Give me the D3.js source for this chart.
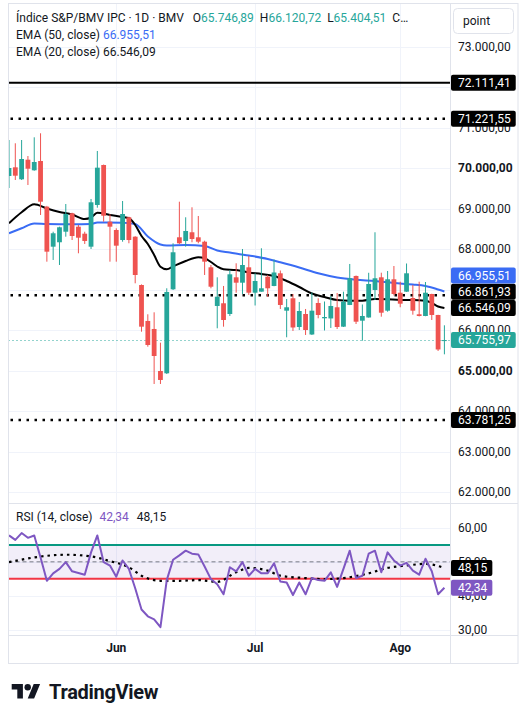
<!DOCTYPE html>
<html>
<head>
<meta charset="utf-8">
<script src="https://cdn.jsdelivr.net/npm/d3@7"></script>
<style>
body { margin: 0; background: #fff; }
svg { display: block; font-family: Roboto, "Noto Sans", sans-serif; }
</style>
</head>
<body>
<svg></svg>
<script>
/* daily candles, S&P/BMV IPC (index 0 = first visible bar) */
var openVals  = [69808,70022,69726,70210,69948,70178,69050,68062,68171,68432,68887,68556,68383,68062,69092,70079,68679,68474,68227,68788,
                 68309,67116,66228,66030,64993,64936,67010,68294,68203,68418,68294,68185,67553,66598,66665,66400,67306,67173,67553,66926,
                 66951,67321,67092,67405,66482,66788,66079,66400,65894,66672,66294,66290,66566,66087,66623,67339,66235,66314,66993,67306,
                 66482,67257,66926,66951,66795,66393,66351,66894,66376,65746.89];
var highVals  = [70696,70615,70696,70301,70763,70862,69070,68432,68556,69116,68900,68598,68432,69240,70425,70090,68862,68516,69190,68803,
                 68320,67130,66393,66442,65692,67035,68146,69173,68788,69035,68820,68210,67610,67306,67092,67487,67652,68005,67832,67405,
                 68023,67363,67746,67474,66771,66894,66697,66524,66931,66788,66709,66845,66919,66951,67635,67350,66635,67418,68418,67420,
                 67462,67585,67198,67647,67116,67198,67190,66900,66380,66120.72];
var lowVals   = [69511,69709,69709,69585,69938,68845,67692,67734,67610,68309,68227,67899,68129,68005,69025,68679,67692,67692,68185,68146,
                 67158,65963,65593,64672,64672,64919,66993,68129,68062,68171,68146,67363,67035,66047,66087,66351,66926,66894,66870,66610,
                 66951,66820,67085,66524,65825,65981,66005,65882,65882,66294,65993,66055,66030,66080,66620,66153,65741,66310,66746,66334,
                 66457,66857,66566,66945,66383,66340,66345,66252,65487,65404.51];
var closeVals = [70005,69815,70227,69988,70153,69173,67939,68393,68541,68869,68326,68284,68203,69158,70013,68827,68556,68087,68869,68227,
                 67363,66087,65635,65363,64771,66944,67924,68146,68450,68252,68185,67692,67074,66827,66252,67380,67173,67610,66926,67215,
                 67035,67035,67425,66623,66566,66067,66474,66005,66482,66376,66326,66598,66079,66704,67282,66210,66351,67141,67282,66432,
                 67257,66894,66655,67405,66482,66351,66926,66376,65524,65755.97];

/* moving averages at some bars */
var ema20Idx  = [0,2,4,6,8,10,12,13,14,16,18,19,20,21,22,23,24,25,26,28,30,31,32,33,34,36,38,40,42,44,46,48,50,52,54,56,58,60,62,64,66,67,68,69];
var ema20Vals = [68640,68911,69109,69005,68919,68857,68746,68783,68901,68845,68795,68763,68598,68326,68129,67857,67568,67504,67573,67709,
                 67800,67776,67684,67573,67504,67487,67425,67388,67339,67215,67067,66906,66820,66746,66729,66729,66771,66763,66746,66746,
                 66729,66672,66585,66546.09];
var ema50Idx  = [0,2,4,6,10,13,14,18,20,22,24,25,28,31,33,35,38,41,43,46,49,52,55,58,61,64,66,68,69];
var ema50Vals = [68393,68516,68635,68622,68615,68622,68659,68655,68622,68314,68116,68092,68104,68079,67968,67919,67845,67758,67677,67548,
                 67405,67302,67247,67215,67166,67129,67092,67005,66955.51];

/* horizontal levels */
var levelSolid  = [72111.41];
var levelDotted = [71221.55, 66861.93, 63781.25];

/* RSI (14) and its MA */
var rsiVals = [57.8,56.5,58.5,57.1,57.8,51.3,44.4,46.6,47.9,49.9,47.2,46.7,46.2,52.8,57.8,49.9,48.9,45.6,50.4,47.9,
               42.2,35.9,33.9,33.0,30.7,44.6,50.6,51.9,53.3,52.4,52.2,48.6,44.9,43.4,40.4,48.4,47.2,49.9,45.9,47.9,
               46.6,46.6,49.6,44.2,43.9,40.2,43.9,40.4,45.2,44.6,44.4,46.9,42.6,47.9,53.3,45.2,45.9,52.4,53.3,46.9,
               52.8,50.4,48.9,49.7,47.4,46.2,50.9,47.2,40.4,42.34];
var rsiMaIdx  = [0,4,9,13,16,19,21,24,27,30,33,36,38,41,43,47,50,53,57,60,63,66,69];
var rsiMaVals = [49.9,51.3,52.1,51.6,50.2,48.4,45.9,44.4,44.4,44.6,44.1,46.9,48.2,47.4,45.9,45.2,44.9,45.2,46.6,48.2,48.9,49.4,48.15];
var rsiBands  = [55, 45, 50];

/* axes */
var priceTicks = [62000,63000,64000,65000,66000,67000,68000,69000,70000,71000,72000,73000];
var boldTicks  = [70000, 65000];
var rsiTicks   = [30, 40, 50, 60];
var monthLabels = ['Jun', 'Jul', 'Ago'];
var monthIdx    = [17, 39, 62];

/* layout */
var svgWidth = 528, svgHeight = 709;
var plotL = 8.5, plotR = 450.5, axisR = 518;
var priceTop = 3.5, priceBot = 503.5, rsiBot = 635.5, frameBot = 663.5;
var teal = '#26a69a', red = '#ef5350', blue = '#3a6cf4', purple = '#7e57c2', ink = '#131722', grid = '#f0f3fa', border = '#e0e3eb';

var loc = d3.formatLocale({decimal: ',', thousands: '.', grouping: [3], currency: ['', '']});
var fmt = loc.format(',.2f');

var svg = d3.select('svg').attr('width', svgWidth).attr('height', svgHeight);
var n = closeVals.length;

var scale = {};
scale.x = d3.scaleLinear().domain([0, n - 1]).range([9, 444.4]);
scale.y = d3.scaleLinear().domain([62000, 73000]).range([492.2, 46.7]);
scale.r = d3.scaleLinear().domain([30, 60]).range([629.5, 528]);

var defs = svg.append('defs');
defs.append('clipPath').attr('id', 'clipP').append('rect')
    .attr('x', plotL).attr('y', priceTop).attr('width', plotR - plotL).attr('height', priceBot - priceTop);
defs.append('clipPath').attr('id', 'clipR').append('rect')
    .attr('x', plotL).attr('y', priceBot).attr('width', plotR - plotL).attr('height', rsiBot - priceBot);

/* grid */
var gridG = svg.append('g');
gridG.selectAll('.hg').data(priceTicks).enter().append('line')
    .attr('x1', plotL).attr('x2', plotR)
    .attr('y1', function(d){ return Math.round(scale.y(d)) + 0.5; })
    .attr('y2', function(d){ return Math.round(scale.y(d)) + 0.5; })
    .attr('stroke', grid);
gridG.selectAll('.rg').data(rsiTicks).enter().append('line')
    .attr('x1', plotL).attr('x2', plotR)
    .attr('y1', function(d){ return Math.round(scale.r(d)) + 0.5; })
    .attr('y2', function(d){ return Math.round(scale.r(d)) + 0.5; })
    .attr('stroke', grid);
gridG.selectAll('.vg').data(monthIdx).enter().append('line')
    .attr('x1', function(d){ return Math.round(scale.x(d)) + 0.5; })
    .attr('x2', function(d){ return Math.round(scale.x(d)) + 0.5; })
    .attr('y1', priceTop).attr('y2', rsiBot)
    .attr('stroke', grid);

/* price pane */
var priceG = svg.append('g').attr('clip-path', 'url(#clipP)');

var lineEma = d3.line()
    .x(function(d){ return scale.x(d[0]); })
    .y(function(d){ return scale.y(d[1]); })
    .curve(d3.curveMonotoneX);

priceG.append('path').datum(d3.zip(ema50Idx, ema50Vals))
    .attr('d', lineEma).attr('fill', 'none').attr('stroke', blue).attr('stroke-width', 2);
priceG.append('path').datum(d3.zip(ema20Idx, ema20Vals))
    .attr('d', lineEma).attr('fill', 'none').attr('stroke', '#000').attr('stroke-width', 2);

priceG.selectAll('.lvs').data(levelSolid).enter().append('line')
    .attr('x1', plotL).attr('x2', plotR)
    .attr('y1', function(d){ return scale.y(d); }).attr('y2', function(d){ return scale.y(d); })
    .attr('stroke', '#000').attr('stroke-width', 2);
priceG.selectAll('.lvd').data(levelDotted).enter().append('line')
    .attr('x1', plotL + 2).attr('x2', plotR)
    .attr('y1', function(d){ return scale.y(d); }).attr('y2', function(d){ return scale.y(d); })
    .attr('stroke', '#000').attr('stroke-width', 2.5).attr('stroke-dasharray', '2.5,5.5');

var lastClose = closeVals[n - 1];
priceG.append('line')
    .attr('x1', plotL).attr('x2', plotR)
    .attr('y1', Math.round(scale.y(lastClose)) + 0.5).attr('y2', Math.round(scale.y(lastClose)) + 0.5)
    .attr('stroke', teal).attr('stroke-width', 1).attr('stroke-dasharray', '1,3');

var candles = priceG.selectAll('.candle').data(d3.range(n)).enter().append('g');
candles.append('line')
    .attr('x1', function(i){ return scale.x(i); }).attr('x2', function(i){ return scale.x(i); })
    .attr('y1', function(i){ return scale.y(highVals[i]); })
    .attr('y2', function(i){ return scale.y(lowVals[i]); })
    .attr('stroke', function(i){ return closeVals[i] >= openVals[i] ? teal : red; })
    .attr('stroke-width', 1);
candles.append('rect')
    .attr('x', function(i){ return scale.x(i) - 2.4; })
    .attr('width', 4.8)
    .attr('y', function(i){ return scale.y(Math.max(openVals[i], closeVals[i])); })
    .attr('height', function(i){ return Math.max(1, Math.abs(scale.y(openVals[i]) - scale.y(closeVals[i]))); })
    .attr('fill', function(i){ return closeVals[i] >= openVals[i] ? teal : red; });

/* RSI pane */
var rsiG = svg.append('g').attr('clip-path', 'url(#clipR)');
rsiG.append('rect')
    .attr('x', plotL).attr('width', plotR - plotL)
    .attr('y', scale.r(rsiBands[0])).attr('height', scale.r(rsiBands[1]) - scale.r(rsiBands[0]))
    .attr('fill', 'rgba(126,87,194,0.1)');
rsiG.append('line')
    .attr('x1', plotL).attr('x2', plotR)
    .attr('y1', scale.r(rsiBands[2])).attr('y2', scale.r(rsiBands[2]))
    .attr('stroke', '#787b86').attr('stroke-dasharray', '4,3');
rsiG.append('line')
    .attr('x1', plotL).attr('x2', plotR)
    .attr('y1', scale.r(rsiBands[0])).attr('y2', scale.r(rsiBands[0]))
    .attr('stroke', '#089981').attr('stroke-width', 2);
rsiG.append('line')
    .attr('x1', plotL).attr('x2', plotR)
    .attr('y1', scale.r(rsiBands[1])).attr('y2', scale.r(rsiBands[1]))
    .attr('stroke', '#f23645').attr('stroke-width', 2);

rsiG.append('path').datum(d3.zip(rsiMaIdx, rsiMaVals))
    .attr('d', d3.line().x(function(d){ return scale.x(d[0]); }).y(function(d){ return scale.r(d[1]); }).curve(d3.curveMonotoneX))
    .attr('fill', 'none').attr('stroke', '#000').attr('stroke-width', 2.2).attr('stroke-dasharray', '2.5,4');
rsiG.append('path').datum(rsiVals)
    .attr('d', d3.line().x(function(d, i){ return scale.x(i); }).y(function(d){ return scale.r(d); }))
    .attr('fill', 'none').attr('stroke', purple).attr('stroke-width', 2).attr('stroke-linejoin', 'round');

/* frame */
var frame = svg.append('g').attr('stroke', border).attr('fill', 'none');
frame.append('rect').attr('x', plotL).attr('y', priceTop).attr('width', axisR - plotL).attr('height', frameBot - priceTop);
frame.append('line').attr('x1', plotR).attr('x2', plotR).attr('y1', priceTop).attr('y2', frameBot);
frame.append('line').attr('x1', plotL).attr('x2', axisR).attr('y1', priceBot).attr('y2', priceBot);
frame.append('line').attr('x1', plotL).attr('x2', axisR).attr('y1', rsiBot).attr('y2', rsiBot);

/* value labels that sit on the price axis */
var lastEma50 = ema50Vals[ema50Vals.length - 1];
var lastEma20 = ema20Vals[ema20Vals.length - 1];
var priceLabels = [];
levelSolid.forEach(function(v){ priceLabels.push({v: v, c: '#000'}); });
levelDotted.forEach(function(v){ priceLabels.push({v: v, c: '#000'}); });
priceLabels.push({v: lastEma50, c: blue});
priceLabels.push({v: lastEma20, c: '#000'});
priceLabels.push({v: lastClose, c: teal});

/* price axis ticks (a tick hidden under a label is not drawn) */
var axisG = svg.append('g').attr('font-size', 12).attr('fill', ink);
var shownTicks = priceTicks.filter(function(t){
  return !priceLabels.some(function(l){ return Math.abs(scale.y(l.v) - scale.y(t)) < 5; });
});
axisG.selectAll('.pt').data(shownTicks).enter().append('text')
    .attr('x', 458).attr('y', function(d){ return scale.y(d) + 4; })
    .attr('font-weight', function(d){ return boldTicks.indexOf(d) >= 0 ? 'bold' : 'normal'; })
    .text(function(d){ return fmt(d); });
axisG.selectAll('.rt').data(rsiTicks).enter().append('text')
    .attr('x', 458).attr('y', function(d){ return scale.r(d) + 4; })
    .text(function(d){ return fmt(d); });
axisG.selectAll('.mt').data(monthIdx).enter().append('text')
    .attr('x', function(d){ return scale.x(d); }).attr('y', 652)
    .attr('text-anchor', 'middle').attr('font-weight', 'bold')
    .text(function(d, i){ return monthLabels[i]; });

/* labels pushed apart when they collide */
function axisLabels(list, yScale){
  list.sort(function(a, b){ return yScale(a.v) < yScale(b.v) ? 1 : -1; });
  var prev = Infinity;
  list.forEach(function(d){
    d.y = Math.min(yScale(d.v), prev - 16.3);
    prev = d.y;
  });
  var g = svg.append('g').attr('font-size', 12);
  list.forEach(function(d){
    var t = g.append('text').attr('x', 458).attr('y', d.y + 4.3).attr('fill', '#fff').text(fmt(d.v));
    var w = t.node().getComputedTextLength();
    g.insert('rect', 'text')
        .attr('x', 451).attr('y', d.y - 8).attr('width', w + 12).attr('height', 16)
        .attr('rx', 2).attr('fill', d.c);
  });
}
axisLabels(priceLabels, scale.y);
axisLabels([{v: rsiVals[n - 1], c: purple}, {v: rsiMaVals[rsiMaVals.length - 1], c: '#000'}], scale.r);

/* legends */
var leg = svg.append('g').attr('font-size', 12).attr('fill', ink);
var l1 = leg.append('text').attr('x', 16).attr('y', 22);
l1.append('tspan').text('Índice S&P/BMV IPC · 1D · BMV');
[['O', openVals[n - 1]], ['H', highVals[n - 1]], ['L', lowVals[n - 1]]].forEach(function(d, i){
  l1.append('tspan').attr('dx', i === 0 ? 9 : 6).text(d[0]);
  l1.append('tspan').attr('fill', teal).text(fmt(d[1]));
});
l1.append('tspan').attr('dx', 6).text('C…');

var l2 = leg.append('text').attr('x', 16).attr('y', 39);
l2.append('tspan').text('EMA (50, close) ');
l2.append('tspan').attr('fill', blue).text(fmt(lastEma50));
var l3 = leg.append('text').attr('x', 16).attr('y', 56);
l3.append('tspan').text('EMA (20, close) ');
l3.append('tspan').text(fmt(lastEma20));

var l4 = leg.append('text').attr('x', 16).attr('y', 521);
l4.append('tspan').text('RSI (14, close) ');
l4.append('tspan').attr('fill', purple).attr('dx', 4).text(fmt(rsiVals[n - 1]));
l4.append('tspan').attr('dx', 8).text(fmt(rsiMaVals[rsiMaVals.length - 1]));

/* "point" button */
svg.append('rect').attr('x', 453.5).attr('y', 8.5).attr('width', 60).attr('height', 25).attr('rx', 4)
    .attr('fill', '#fff').attr('stroke', border);
svg.append('text').attr('x', 463).attr('y', 25).attr('font-size', 12).attr('fill', ink).text('point');

/* TradingView mark */
var logo = svg.append('g').attr('fill', ink);
logo.append('g').attr('transform', 'translate(11.7,680.8) scale(0.8)')
    .call(function(g){
      g.append('path').attr('d', 'M14 22H7V11H0V4h14v18zM28 22h-8l7.5-18h8L28 22z');
      g.append('circle').attr('cx', 20).attr('cy', 8).attr('r', 4);
    });
logo.append('text').attr('x', 49).attr('y', 698.5).attr('font-size', 20).attr('font-weight', 'bold')
    .attr('letter-spacing', -0.3).text('TradingView');
</script>
</body>
</html>
